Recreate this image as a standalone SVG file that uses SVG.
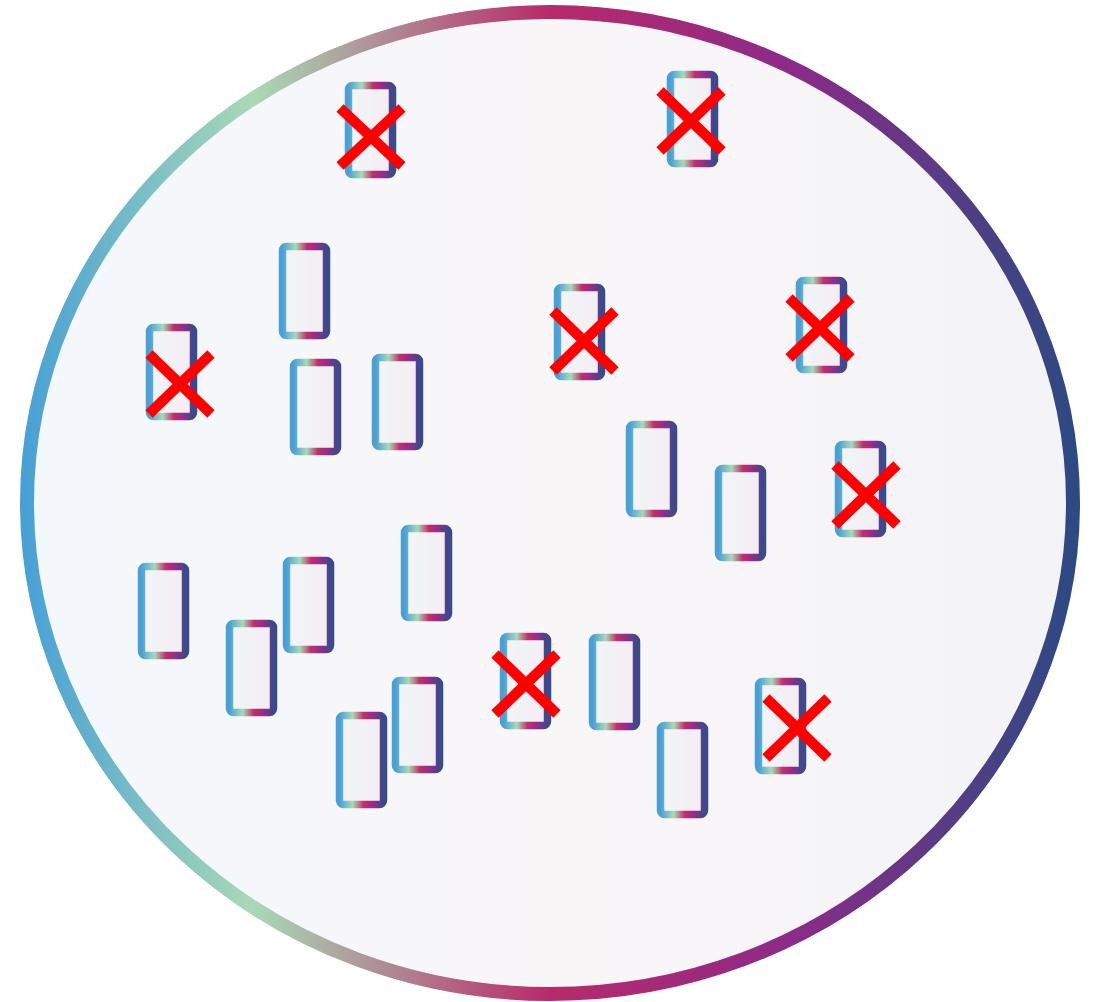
<svg xmlns="http://www.w3.org/2000/svg" width="1097" height="1002" viewBox="0 0 1097 1002">
<defs>
<linearGradient id="ringStroke" gradientUnits="userSpaceOnUse" x1="20" y1="0" x2="1080" y2="0">
<stop offset="0" stop-color="#479fd5"/>
<stop offset="0.22" stop-color="#a9d9b6"/>
<stop offset="0.5" stop-color="#b82a6a"/>
<stop offset="0.72" stop-color="#8e2a88"/>
<stop offset="1" stop-color="#2c4a82"/>
</linearGradient>
<linearGradient id="ringFill" x1="0" y1="0" x2="1" y2="0">
<stop offset="0" stop-color="#f3f8fc"/>
<stop offset="0.5" stop-color="#f9f6f8"/>
<stop offset="1" stop-color="#f3f3f7"/>
</linearGradient>
<linearGradient id="cellStroke" x1="0" y1="0" x2="1" y2="0">
<stop offset="0" stop-color="#4a9fd4"/>
<stop offset="0.3" stop-color="#a8dab8"/>
<stop offset="0.55" stop-color="#c0306a"/>
<stop offset="0.75" stop-color="#9b2a8a"/>
<stop offset="1" stop-color="#3a4a8a"/>
</linearGradient>
<linearGradient id="cellFill" x1="0" y1="0" x2="1" y2="0">
<stop offset="0" stop-color="#f1f5f8"/>
<stop offset="1" stop-color="#f4edf3"/>
</linearGradient>
</defs>
<style>
.cell{fill:url(#cellFill);stroke:url(#cellStroke);stroke-width:7.5}
.x{stroke:#ff0000;stroke-width:10.5;fill:none}
</style>
<g id="ring">
<ellipse cx="550" cy="503" rx="523" ry="491" fill="url(#ringFill)" stroke="url(#ringStroke)" stroke-width="14"/>
</g>
<g id="cells">
<rect class="cell" x="348.5" y="85.5" width="44" height="89" rx="4"/>
<rect class="cell" x="670.5" y="74.5" width="44" height="89" rx="4"/>
<rect class="cell" x="149.5" y="327.5" width="44" height="89" rx="4"/>
<rect class="cell" x="282.5" y="246.5" width="44" height="89" rx="4"/>
<rect class="cell" x="293.5" y="362.5" width="44" height="89" rx="4"/>
<rect class="cell" x="375.5" y="357.5" width="44" height="89" rx="4"/>
<rect class="cell" x="557.5" y="287.5" width="44" height="89" rx="4"/>
<rect class="cell" x="799.5" y="280.5" width="44" height="89" rx="4"/>
<rect class="cell" x="629.5" y="424.5" width="44" height="89" rx="4"/>
<rect class="cell" x="718.5" y="468.5" width="44" height="89" rx="4"/>
<rect class="cell" x="838.5" y="444.5" width="44" height="89" rx="4"/>
<rect class="cell" x="141.5" y="566.5" width="44" height="89" rx="4"/>
<rect class="cell" x="229.5" y="623.5" width="44" height="89" rx="4"/>
<rect class="cell" x="286.5" y="560.5" width="44" height="89" rx="4"/>
<rect class="cell" x="404.5" y="528.5" width="44" height="89" rx="4"/>
<rect class="cell" x="339.5" y="715.5" width="44" height="89" rx="4"/>
<rect class="cell" x="395.5" y="680.5" width="44" height="89" rx="4"/>
<rect class="cell" x="503.5" y="636.5" width="44" height="89" rx="4"/>
<rect class="cell" x="592.5" y="637.5" width="44" height="89" rx="4"/>
<rect class="cell" x="660.5" y="725.5" width="44" height="89" rx="4"/>
<rect class="cell" x="758.5" y="681.5" width="44" height="89" rx="4"/>
</g>
<g id="crosses">
<path class="x" d="M340,108 L402,166 M402,108 L340,166"/>
<path class="x" d="M660,91 L722,151 M722,91 L660,151"/>
<path class="x" d="M149,354 L211,414 M211,354 L149,414"/>
<path class="x" d="M553,311 L615,371 M615,311 L553,371"/>
<path class="x" d="M789,298 L851,358 M851,298 L789,358"/>
<path class="x" d="M835,465 L897,525 M897,465 L835,525"/>
<path class="x" d="M495,654 L557,714 M557,654 L495,714"/>
<path class="x" d="M766,698 L828,758 M828,698 L766,758"/>
</g>
</svg>
